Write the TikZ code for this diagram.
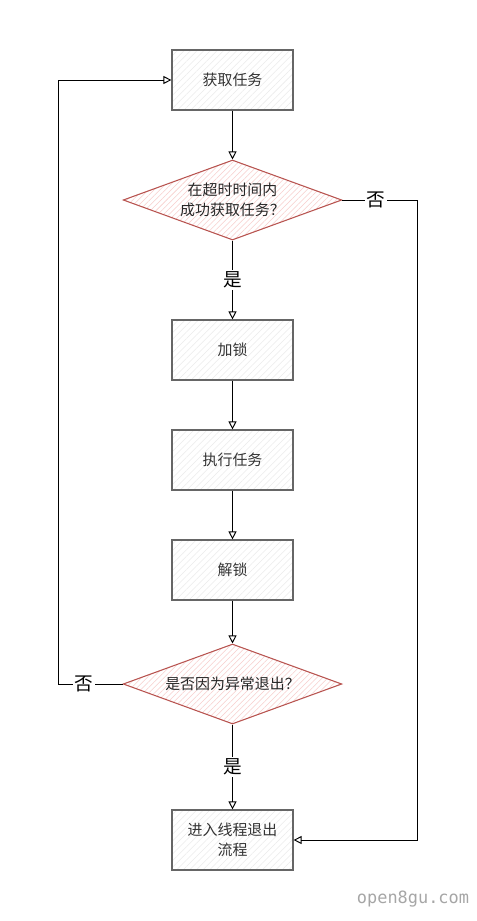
\documentclass[tikz,border=0pt]{standalone}
\usepackage{fontspec}
\setmainfont{Noto Sans CJK SC}
\newfontfamily\markfont{DejaVu Sans Mono}
\usetikzlibrary{arrows.meta,shapes.geometric,patterns.meta}

\definecolor{boxline}{HTML}{666666}
\definecolor{boxhatch}{HTML}{EBEBEB}
\definecolor{redline}{HTML}{B85450}
\definecolor{redhatch}{HTML}{F8CECC}
\definecolor{textgray}{HTML}{333333}

\tikzset{
  taskbox/.style={draw=boxline, line width=0.9pt,
    preaction={fill=white},
    preaction={pattern={Lines[angle=45,distance=3.5pt,line width=0.4pt]}, pattern color=boxhatch},
    minimum width=90.75pt, minimum height=45pt, align=center, text=textgray, font=\fontsize{11.2}{15}\selectfont},
  decision/.style={diamond, aspect=2.7, draw=redline, line width=0.8pt,
    preaction={fill=white},
    preaction={pattern={Lines[angle=45,distance=3pt,line width=0.4pt]}, pattern color=redhatch},
    minimum width=164pt, minimum height=60pt, inner sep=0pt, align=center, text=black!85, font=\fontsize{11.2}{15}\selectfont},
  flow/.style={draw=black, line width=0.7pt, -{Triangle[open,length=6pt,width=6pt]}},
  answer/.style={fill=white, inner sep=1pt, font=\fontsize{14}{14}\selectfont}
}

\begin{document}
\begin{tikzpicture}[x=0.75pt, y=-0.75pt]
  \useasboundingbox (0,0) rectangle (477,921);

  % main column
  \node[taskbox] (fetch) at (232.5,80) {获取任务};
  \node[decision] (intime) at (232.5,200) {在超时时间内\\成功获取任务？};
  \node[taskbox] (lock) at (232.5,350) {加锁};
  \node[taskbox] (run) at (232.5,460) {执行任务};
  \node[taskbox] (unlock) at (232.5,570) {解锁};
  \node[decision] (abnormal) at (232.5,684) {是否因为异常退出？};
  \node[taskbox] (quit) at (232.5,840) {进入线程退出\\流程};

  \coordinate (rturn) at (417,200);
  \coordinate (lturn) at (58,684);

  % arrows
  \draw[flow] (fetch) -- (intime);
  \draw[flow] (intime) -- node[answer] {是} (lock);
  \draw[flow] (lock) -- (run);
  \draw[flow] (run) -- (unlock);
  \draw[flow] (unlock) -- (abnormal);
  \draw[flow] (abnormal) -- node[answer, pos=0.5] {是} (quit);
  \draw[flow] (intime.east) -- node[answer, pos=0.45] {否} (rturn) |- (quit.east);
  \draw[flow] (abnormal.west) -- node[answer, pos=0.6] {否} (lturn) |- (fetch.west);

  % watermark
  \node[text=black!35, font=\markfont\fontsize{12.7}{12.7}\selectfont] (mark) at (413,899) {open8gu.com};
\end{tikzpicture}
\end{document}
